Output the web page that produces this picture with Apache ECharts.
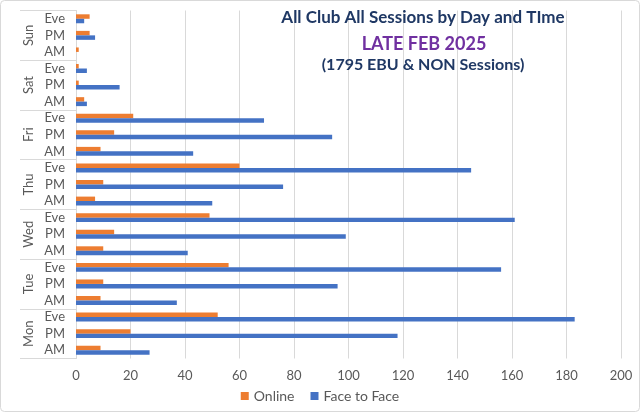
<!DOCTYPE html>
<html>
<head>
<meta charset="utf-8">
<script src="https://cdn.jsdelivr.net/npm/echarts@6/dist/echarts.min.js"></script>
<style>html,body{margin:0;padding:0;background:#fff}#c{width:640px;height:412px}</style>
</head>
<body>
<div id="c"></div>
<script>
const days = ['Mon', 'Tue', 'Wed', 'Thu', 'Fri', 'Sat', 'Sun'];
const slots = ['AM', 'PM', 'Eve'];
const online = [9, 20, 52, 9, 10, 56, 10, 14, 49, 7, 10, 60, 9, 14, 21, 3, 1, 1, 1, 5, 5];
const faceToFace = [27, 118, 183, 37, 96, 156, 41, 99, 161, 50, 76, 145, 43, 94, 69, 4, 16, 4, 0, 7, 3];
const xTicks = [0, 20, 40, 60, 80, 100, 120, 140, 160, 180, 200];
const titleLines = ['All Club All Sessions by Day and TIme', 'LATE FEB 2025', '(1795 EBU & NON Sessions)'];

const subCats = [];
days.forEach(d => slots.forEach(s => subCats.push(s)));

const font = 'Lato, "Open Sans", sans-serif';
const chart = echarts.init(document.getElementById('c'), null, {renderer: 'canvas'});
chart.setOption({
  backgroundColor: '#fff',
  animation: false,
  textStyle: {fontFamily: font},
  title: [
    {text: titleLines[0], left: 418, top: 4, textAlign: 'center',
     textStyle: {fontFamily: font, fontSize: 17, fontWeight: 'bold', color: '#1F3864'}},
    {text: titleLines[1], left: 419, top: 30, textAlign: 'center',
     textStyle: {fontFamily: font, fontSize: 18, fontWeight: 'bold', color: '#7030A0'}},
    {text: titleLines[2], left: 418, top: 52, textAlign: 'center',
     textStyle: {fontFamily: font, fontSize: 16, fontWeight: 'bold', color: '#1F3864'}}
  ],
  legend: {
    data: ['Online', 'Face to Face'],
    left: 'center', top: 384,
    itemWidth: 8, itemHeight: 8, itemGap: 16,
    icon: 'rect',
    textStyle: {fontFamily: font, fontSize: 14, color: '#595959'}
  },
  grid: {left: 76, right: 19, top: 10.5, bottom: 53.5, containLabel: false},
  xAxis: {
    type: 'value', min: xTicks[0], max: xTicks[xTicks.length - 1], interval: 20,
    axisLine: {show: false}, axisTick: {show: false},
    splitLine: {lineStyle: {color: '#D9D9D9', width: 1}},
    axisLabel: {fontFamily: font, fontSize: 13, color: '#595959', margin: 11}
  },
  yAxis: [
    {
      type: 'category', data: subCats, position: 'left',
      axisLine: {show: true, lineStyle: {color: '#D9D9D9'}},
      axisTick: {show: false},
      axisLabel: {fontFamily: font, fontSize: 13, color: '#595959', margin: 11, interval: 0}
    },
    {
      type: 'category', data: days, position: 'left', offset: 0,
      axisLine: {show: false},
      axisTick: {show: true, length: 56, lineStyle: {color: '#D9D9D9'}},
      axisLabel: {fontFamily: font, fontSize: 13, color: '#595959', rotate: 90, margin: 41, interval: 0}
    }
  ],
  series: [
    {name: 'Online', type: 'bar', yAxisIndex: 0, data: online,
     itemStyle: {color: '#ED7D31'}, barGap: '0%', barCategoryGap: '46%'},
    {name: 'Face to Face', type: 'bar', yAxisIndex: 0, data: faceToFace,
     itemStyle: {color: '#4472C4'}, barGap: '0%', barCategoryGap: '46%'}
  ],
  graphic: [
    {type: 'rect', shape: {x: 0.5, y: 0.5, width: 639, height: 411, r: 4}, silent: true,
     style: {fill: 'none', stroke: '#D9D9D9', lineWidth: 1}}
  ]
});
</script>
</body>
</html>
